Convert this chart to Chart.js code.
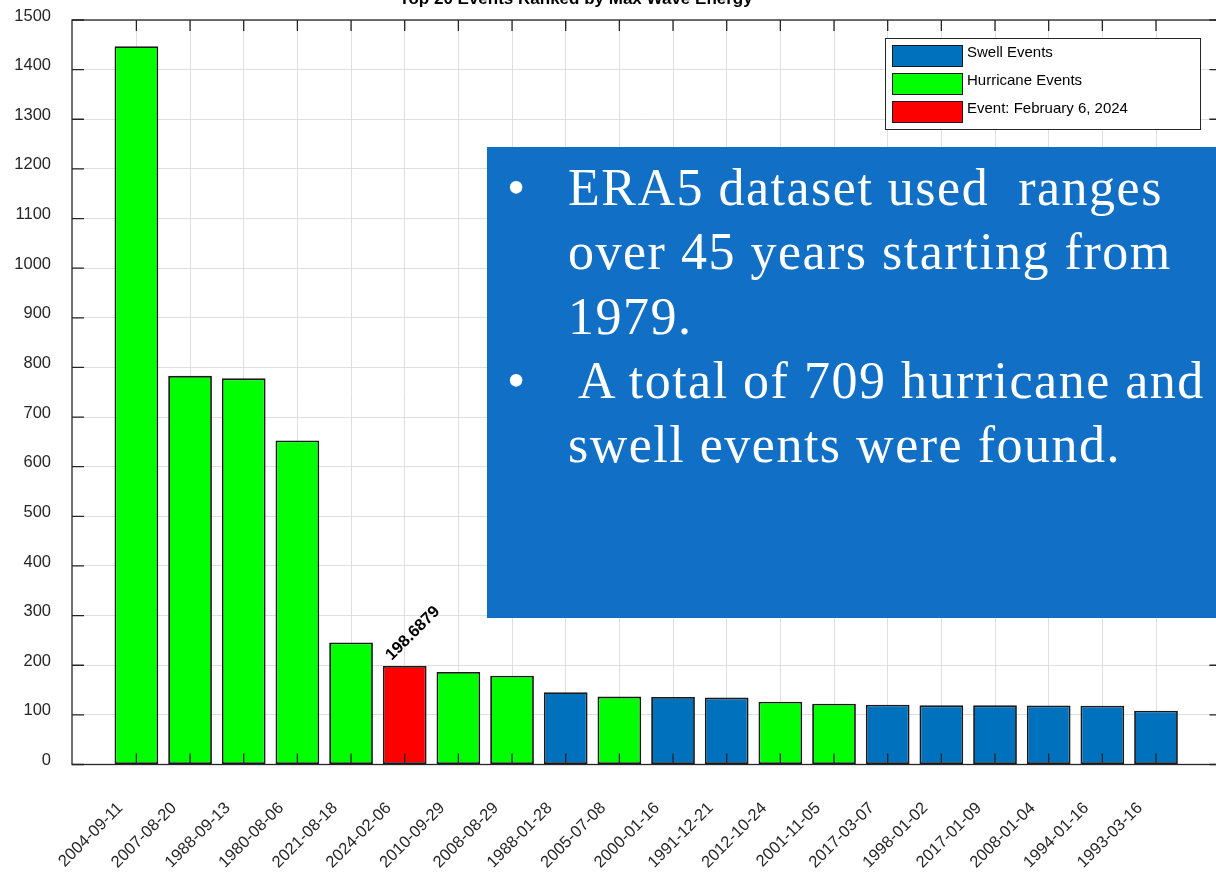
<!DOCTYPE html>
<html>
<head>
<meta charset="utf-8">
<script src="https://cdn.jsdelivr.net/npm/chart.js@4.4.1/dist/chart.umd.min.js"></script>
<style>
  html, body { margin: 0; padding: 0; background: #fff; overflow: hidden; }
  #page { position: relative; width: 1216px; height: 872px; overflow: hidden; }
  #chartBox { position: absolute; left: 0; top: 0; width: 1240px; height: 872px; }
  #note {
    position: absolute; left: 487px; top: 147px; width: 760px; height: 471px;
    background: #1170c5; color: #fff;
    font-family: 'Liberation Serif', 'Times New Roman', serif; font-size: 52px;
  }
  #note div { position: absolute; white-space: pre; line-height: 64px; letter-spacing: 1.5px; }
  #note .bul { left: 20px; letter-spacing: 0; }
</style>
</head>
<body>
<div id="page">
  <div id="chartBox"><canvas id="waveChart"></canvas></div>
  <div id="note">
    <div class="bul" style="top:9px">•</div>
    <div style="left:81px; top:9px">ERA5 dataset used  ranges</div>
    <div style="left:81px; top:73px">over 45 years starting from</div>
    <div style="left:81px; top:138px">1979.</div>
    <div class="bul" style="top:202px">•</div>
    <div style="left:91px; top:202px">A total of 709 hurricane and</div>
    <div style="left:81px; top:266px">swell events were found.</div>
  </div>
</div>
<script>
const eventDates = ['2004-09-11', '2007-08-20', '1988-09-13', '1980-08-06', '2021-08-18',
  '2024-02-06', '2010-09-29', '2008-08-29', '1988-01-28', '2005-07-08',
  '2000-01-16', '1991-12-21', '2012-10-24', '2001-11-05', '2017-03-07',
  '1998-01-02', '2017-01-09', '2008-01-04', '1994-01-16', '1993-03-16'];
const maxWaveEnergy = [1447, 783, 778, 653, 246, 198.6879, 186.5, 178.8, 145.8, 136.8,
  136.0, 134.8, 126.6, 122.6, 120.4, 119.2, 119.2, 119.0, 118.5, 108.5];
// S = swell, H = hurricane, E = the February 2024 event
const eventKind = ['H', 'H', 'H', 'H', 'H', 'E', 'H', 'H', 'S', 'H',
  'S', 'S', 'H', 'H', 'S', 'S', 'S', 'S', 'S', 'S'];

const seriesKinds = ['S', 'H', 'E'];
const seriesNames = ['Swell Events', 'Hurricane Events', 'Event: February 6, 2024'];
const seriesColors = ['#0072bd', '#00ff00', '#ff0000'];
const chartTitle = 'Top 20 Events Ranked by Max Wave Energy';

Chart.defaults.font.family = "'Liberation Sans', Arial, sans-serif";
Chart.defaults.color = '#262626';

const datasets = seriesKinds.map((k, s) => ({
    label: seriesNames[s],
    data: eventDates.map((d, i) => ({ x: i + 1, y: maxWaveEnergy[i] }))
        .filter((p, i) => eventKind[i] === k),
    backgroundColor: seriesColors[s],
    borderColor: '#1a1a1a',
    borderWidth: 1.8,
    borderSkipped: false,
    grouped: false,
    barPercentage: 0.815,
    categoryPercentage: 1.0
}));

const framePlugin = {
    id: 'frame',
    afterDatasetsDraw(chart) {
        const { ctx, chartArea: a, scales: { x, y } } = chart;
        ctx.save();
        ctx.strokeStyle = '#262626';
        ctx.lineWidth = 1.3;
        ctx.strokeRect(a.left, a.top, a.right - a.left, a.bottom - a.top);
        ctx.beginPath();
        x.ticks.forEach(t => {
            const px = x.getPixelForValue(t.value);
            ctx.moveTo(px, a.bottom); ctx.lineTo(px, a.bottom - 11);
            ctx.moveTo(px, a.top); ctx.lineTo(px, a.top + 11);
        });
        y.ticks.forEach(t => {
            const py = y.getPixelForValue(t.value);
            ctx.moveTo(a.left, py); ctx.lineTo(a.left + 12, py);
            ctx.moveTo(a.right, py); ctx.lineTo(a.right - 11, py);
        });
        ctx.stroke();

        // value label on the highlighted event
        const bar = chart.getDatasetMeta(2).data[0];
        const val = chart.data.datasets[2].data[0].y;
        ctx.translate(bar.x - 13, bar.y - 5);
        ctx.rotate(-Math.PI / 4);
        ctx.fillStyle = '#000';
        ctx.font = "bold 16.5px 'Liberation Sans', Arial, sans-serif";
        ctx.textAlign = 'left';
        ctx.textBaseline = 'alphabetic';
        ctx.fillText(val.toFixed(4), 0, 0);
        ctx.restore();
    },
    afterDraw(chart) {
        const ctx = chart.ctx;
        ctx.save();
        ctx.fillStyle = '#000';
        ctx.font = "bold 17px 'Liberation Sans', Arial, sans-serif";
        ctx.textAlign = 'center';
        ctx.textBaseline = 'alphabetic';
        ctx.fillText(chartTitle, 576, 4);

        // legend box
        ctx.fillStyle = '#fff';
        ctx.fillRect(885, 38, 315, 91);
        ctx.strokeStyle = '#262626';
        ctx.lineWidth = 1;
        ctx.strokeRect(885.5, 38.5, 315, 91);
        ctx.font = "15px 'Liberation Sans', Arial, sans-serif";
        ctx.textBaseline = 'alphabetic';
        ctx.textAlign = 'left';
        chart.data.datasets.forEach((ds, i) => {
            const top = 45 + i * 28;
            ctx.fillStyle = ds.backgroundColor;
            ctx.fillRect(892, top, 70, 21);
            ctx.strokeStyle = '#1a1a1a';
            ctx.strokeRect(892.5, top + 0.5, 70, 21);
            ctx.fillStyle = '#000';
            ctx.fillText(ds.label, 967, top + 12);
        });
        ctx.restore();
    }
};

const ctx = document.getElementById('waveChart').getContext('2d');
const waveChart = new Chart(ctx, {
    type: 'bar',
    data: { datasets: datasets },
    options: {
        responsive: true,
        maintainAspectRatio: false,
        animation: false,
        layout: { padding: { top: 20, right: 19.6, left: 0, bottom: 0 } },
        plugins: {
            legend: { display: false },
            tooltip: { enabled: false }
        },
        scales: {
            x: {
                type: 'linear',
                min: -0.2,
                max: 21.2,
                offset: false,
                grid: { offset: false, color: '#dedede', drawTicks: false },
                border: { display: false },
                afterBuildTicks: s => { s.ticks = eventDates.map((d, i) => ({ value: i + 1 })); },
                ticks: {
                    autoSkip: false,
                    minRotation: 45,
                    maxRotation: 45,
                    padding: 34,
                    labelOffset: -16,
                    color: '#262626',
                    font: { size: 16.5 },
                    callback: v => eventDates[v - 1]
                },
                afterFit: s => { s.height = 107.5; s.paddingLeft = 0; s.paddingRight = 0; }
            },
            y: {
                min: 0,
                max: 1500,
                grid: { color: '#dedede', drawTicks: false },
                border: { display: false },
                ticks: {
                    stepSize: 100,
                    padding: 21,
                    labelOffset: -4,
                    color: '#262626',
                    font: { size: 16.5 },
                    callback: v => String(v)
                },
                afterFit: s => { s.width = 72; s.paddingTop = 0; s.paddingBottom = 0; }
            }
        }
    },
    plugins: [framePlugin]
});
</script>
</body>
</html>
